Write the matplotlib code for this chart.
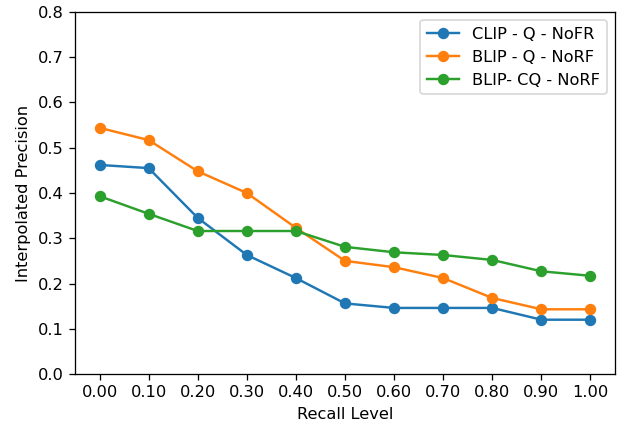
import matplotlib
matplotlib.use("Agg")
import matplotlib.pyplot as plt

recall = ["0.00", "0.10", "0.20", "0.30", "0.40", "0.50", "0.60", "0.70", "0.80", "0.90", "1.00"]
clip_q = [0.462, 0.455, 0.345, 0.263, 0.212, 0.156, 0.146, 0.146, 0.146, 0.120, 0.120]
blip_q = [0.544, 0.517, 0.448, 0.400, 0.323, 0.250, 0.236, 0.212, 0.168, 0.143, 0.143]
blip_cq = [0.393, 0.354, 0.316, 0.316, 0.316, 0.281, 0.269, 0.263, 0.252, 0.227, 0.217]

DPI = 117
fig, ax = plt.subplots(figsize=(629 / DPI, 424 / DPI), dpi=DPI)
x = range(len(recall))
ax.plot(x, clip_q, marker='o', label='CLIP - Q - NoFR')
ax.plot(x, blip_q, marker='o', label='BLIP - Q - NoRF')
ax.plot(x, blip_cq, marker='o', label='BLIP- CQ - NoRF')
ax.set_xticks(list(x))
ax.set_xticklabels(recall)
ax.set_ylim(0, 0.8)
ax.set_xlabel("Recall Level")
ax.set_ylabel("Interpolated Precision")
ax.legend(loc='upper right')
fig.subplots_adjust(left=75 / 629, right=615 / 629, top=1 - 12 / 424, bottom=1 - 374 / 424)
plt.savefig("out.png", dpi=DPI)
